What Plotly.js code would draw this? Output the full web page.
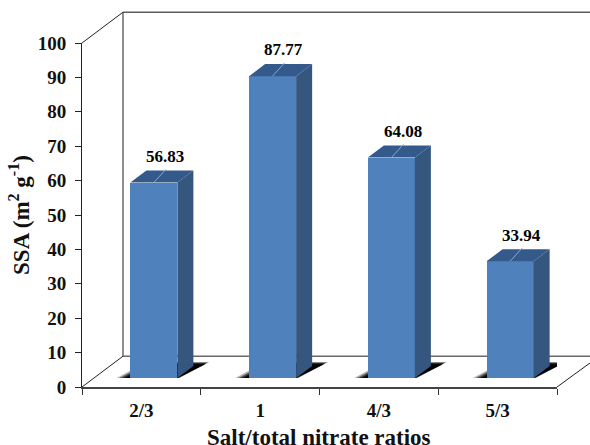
<!DOCTYPE html>
<html><head><meta charset="utf-8">
<script src="https://cdn.plot.ly/plotly-3.0.1.min.js"></script>
<style>html,body{margin:0;padding:0;background:#fff}</style></head>
<body><div id="chart" style="width:590px;height:445px"></div>
<script>
const categories = ['2/3','1','4/3','5/3'];
const ssaValues = [56.83,87.77,64.08,33.94];
const yTicks = [0,10,20,30,40,50,60,70,80,90,100];
const xBoundaries = [0,1,2,3,4];
const xTitleText = 'Salt/total nitrate ratios';

// 3-D look, in axis units
const barWidth = 0.396, barShift = 0.105, floorRise = 2.6;
const depthX = 0.135, depthY = 3.5;
const front = '#4f81bd', side = '#35567f', top_ = '#345a8c';
const centres = categories.map((c,i)=>i+0.5+barShift);
const L = i=>centres[i]-barWidth/2, R = i=>centres[i]+barWidth/2;
const T = i=>ssaValues[i]+floorRise;

function polys(fn){const xs=[],ys=[];categories.forEach((c,i)=>{fn(i).forEach(p=>{xs.push(p[0]);ys.push(p[1]);});xs.push(null);ys.push(null);});return {x:xs,y:ys};}
const sidePoly = polys(i=>[[R(i),floorRise],[R(i)+depthX,floorRise+depthY],[R(i)+depthX,T(i)+depthY],[R(i),T(i)],[R(i),floorRise]]);
const topPoly = polys(i=>[[L(i),T(i)],[R(i),T(i)],[R(i)+depthX,T(i)+depthY],[L(i)+depthX,T(i)+depthY],[L(i),T(i)]]);
const leader = polys(i=>[[centres[i],T(i)],[centres[i]+depthX*0.75,T(i)+depthY*1.1]]);

const traces = [
 {type:'bar',x:centres,y:ssaValues,base:categories.map(()=>floorRise),width:barWidth,marker:{color:front,line:{width:0}},hoverinfo:'y',showlegend:false},
 {type:'scatter',mode:'lines',x:sidePoly.x,y:sidePoly.y,fill:'toself',fillcolor:side,line:{width:0,color:side},hoverinfo:'skip',showlegend:false},
 {type:'scatter',mode:'lines',x:topPoly.x,y:topPoly.y,fill:'toself',fillcolor:top_,line:{width:0,color:top_},hoverinfo:'skip',showlegend:false},
 {type:'scatter',mode:'lines',x:leader.x,y:leader.y,line:{width:1,color:'#8fa6c2'},hoverinfo:'skip',showlegend:false}
];

const annotations = ssaValues.map((v,i)=>({x:centres[i]+0.095,y:v+floorRise+7.6,text:v.toFixed(2),showarrow:false,xanchor:'center',yanchor:'middle',
  font:{family:'Liberation Serif',size:17,color:'#000',weight:'bold'}}));
annotations.push({xref:'paper',yref:'paper',x:0.498,y:-0.148,text:xTitleText,showarrow:false,xanchor:'center',yanchor:'middle',
  font:{family:'Liberation Serif',size:23,color:'#111',weight:'bold'}});

// Wall outline in paper units (runs past the plot area, to the page edge)
const wx=0.0863, wy=0.0895, rightEdge=1.0695, shapes=[];
const seg=(x0,y0,x1,y1,c,w)=>shapes.push({type:'line',xref:'paper',yref:'paper',x0,y0,x1,y1,layer:'below',line:{color:c,width:w}});
seg(wx,1+wy,rightEdge,1+wy,'#5c5c5c',1.5);
seg(wx,wy,wx,1+wy,'#6a6a6a',1.5);
seg(wx,wy,rightEdge,wy,'#6a6a6a',1.5);
seg(0,1,wx,1+wy,'#222',1);
seg(0,0,wx,wy,'#222',1);
seg(1,0,rightEdge,wy*0.78,'#222',1);

// Blurred floor shadows, layered: left offset, right offset, skew, height, alpha
categories.forEach((c,i)=>{
  [[-0.115,0.02,0.25,4.7,0.3],[-0.09,0.012,0.245,4.5,0.5],[-0.065,0.005,0.24,4.3,0.7],[-0.04,0,0.235,4.0,0.95]].forEach(s=>{
    const a=L(i)+s[0], b=R(i)+s[1], h=floorRise+s[3], sk=s[2];
    shapes.push({type:'path',xref:'x',yref:'y',layer:'below',fillcolor:'rgba(0,0,0,'+s[4]+')',line:{width:0},
      path:`M${a},${floorRise}L${b},${floorRise}L${b+sk},${h}L${a+sk},${h}Z`});
  });
});

const layout = {
 width:590,height:445,margin:{l:82,r:33,t:43,b:58},paper_bgcolor:'#fff',plot_bgcolor:'rgba(0,0,0,0)',
 font:{family:'Liberation Serif',color:'#111'},showlegend:false,bargap:0,shapes,annotations,
 xaxis:{range:[0,4],tickmode:'array',tickvals:categories.map((c,i)=>i+0.5),ticktext:categories,ticks:'',showgrid:false,zeroline:false,ticklabelstandoff:5,
   showline:true,linecolor:'#444',linewidth:2,tickfont:{size:19,family:'Liberation Serif',weight:'bold',color:'#111'},
   minor:{tickmode:'array',tickvals:xBoundaries,ticks:'outside',ticklen:6,tickwidth:1,tickcolor:'#333',showgrid:false}},
 yaxis:{range:[0,100],tickmode:'array',tickvals:yTicks,ticks:'outside',ticklen:6,tickwidth:1,tickcolor:'#222',showgrid:false,zeroline:false,ticklabelstandoff:5,
   showline:true,linecolor:'#222',linewidth:1,tickfont:{size:19,family:'Liberation Serif',weight:'bold',color:'#111'},
   title:{text:'SSA (m<sup>2</sup> g<sup>-1</sup>)',standoff:1,font:{size:23,family:'Liberation Serif',weight:'bold',color:'#111'}}}
};
Plotly.newPlot('chart',traces,layout,{displayModeBar:false,staticPlot:true});
</script></body></html>
